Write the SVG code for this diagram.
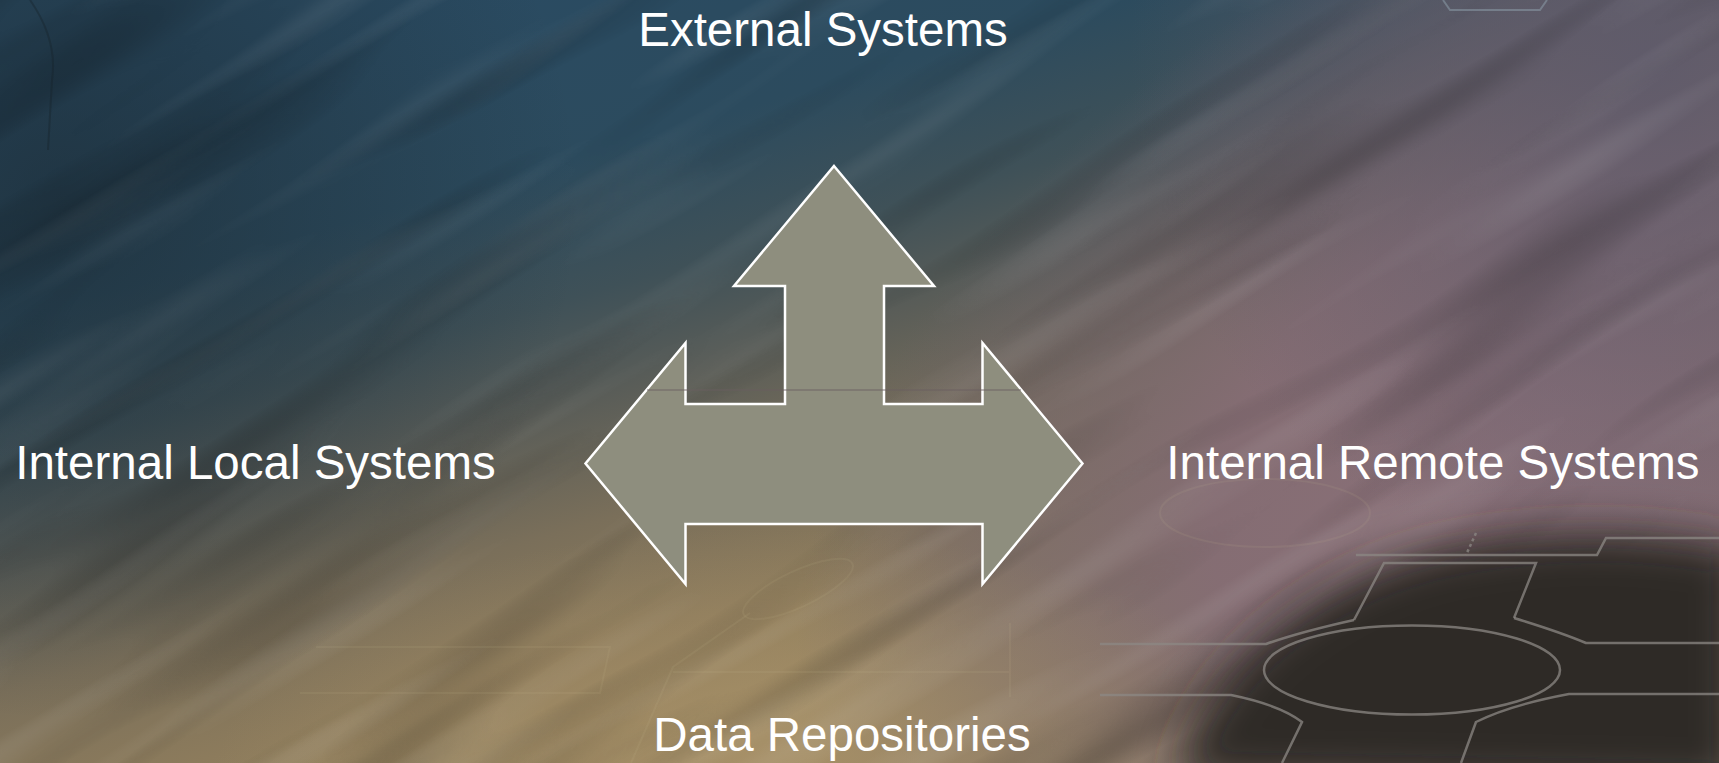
<svg xmlns="http://www.w3.org/2000/svg" width="1719" height="763" viewBox="0 0 1719 763">
<style>
.lbl{font-family:"Liberation Sans",Arial,Helvetica,sans-serif;font-size:47.5px;fill:#ffffff;text-anchor:middle}
.arrow{fill:#8e8e7e;stroke:#ffffff;stroke-width:2.5;stroke-linejoin:miter}
.circ{fill:none;stroke:#8c8884;stroke-width:2.5;opacity:0.75}
.faint{fill:none;stroke:#d8c49a;stroke-width:2;opacity:0.09}
</style>
<defs>
<linearGradient id="base" gradientUnits="userSpaceOnUse" x1="400" y1="0" x2="620" y2="763">
<stop offset="0" stop-color="#2a4b62"/>
<stop offset="0.25" stop-color="#2c4b5e"/>
<stop offset="0.42" stop-color="#3f5158"/>
<stop offset="0.55" stop-color="#5a5d58"/>
<stop offset="0.7" stop-color="#7a6f5a"/>
<stop offset="0.85" stop-color="#8c7b5c"/>
<stop offset="1" stop-color="#9a8862"/>
</linearGradient>
<radialGradient id="mauve" gradientUnits="userSpaceOnUse" cx="1550" cy="420" r="820" gradientTransform="translate(1550 420) rotate(-30) scale(1 0.62) translate(-1550 -420)">
<stop offset="0" stop-color="#8a7079" stop-opacity="1"/>
<stop offset="0.45" stop-color="#846c74" stop-opacity="0.95"/>
<stop offset="0.75" stop-color="#74666e" stop-opacity="0.55"/>
<stop offset="1" stop-color="#6a6070" stop-opacity="0"/>
</radialGradient>
<radialGradient id="purpleTop" gradientUnits="userSpaceOnUse" cx="1650" cy="60" r="520">
<stop offset="0" stop-color="#5e5a6a" stop-opacity="0.9"/>
<stop offset="1" stop-color="#5e5a6a" stop-opacity="0"/>
</radialGradient>
<radialGradient id="darkTL" gradientUnits="userSpaceOnUse" cx="60" cy="200" r="520">
<stop offset="0" stop-color="#18242c" stop-opacity="0.55"/>
<stop offset="1" stop-color="#18242c" stop-opacity="0"/>
</radialGradient>
<radialGradient id="warm" gradientUnits="userSpaceOnUse" cx="760" cy="780" r="420" gradientTransform="translate(760 780) scale(1.3 0.6) translate(-760 -780)">
<stop offset="0" stop-color="#a99168" stop-opacity="0.8"/>
<stop offset="1" stop-color="#a99168" stop-opacity="0"/>
</radialGradient>
<filter id="streakD" filterUnits="objectBoundingBox" x="0" y="0" width="1" height="1">
<feTurbulence type="fractalNoise" baseFrequency="0.0018 0.016" numOctaves="2" seed="7"/>
<feColorMatrix type="matrix" values="0 0 0 0 0  0 0 0 0 0  0 0 0 0 0  2.6 0 0 0 -1.35"/>
</filter>
<filter id="streakL" filterUnits="objectBoundingBox" x="0" y="0" width="1" height="1">
<feTurbulence type="fractalNoise" baseFrequency="0.0022 0.022" numOctaves="2" seed="21"/>
<feColorMatrix type="matrix" values="0 0 0 0 1  0 0 0 0 1  0 0 0 0 1  -2.6 0 0 0 1.25"/>
</filter>
<filter id="blur" x="-20%" y="-20%" width="140%" height="140%">
<feGaussianBlur stdDeviation="22"/>
</filter>
</defs>

<g id="background">
<rect width="1719" height="763" fill="url(#base)"/>
<rect width="1719" height="763" fill="url(#mauve)"/>
<rect width="1719" height="763" fill="url(#purpleTop)"/>
<rect width="1719" height="763" fill="url(#darkTL)"/>
<rect width="1719" height="763" fill="url(#warm)"/>
<g transform="rotate(-32 860 380)">
<rect x="-700" y="-900" width="3200" height="2600" filter="url(#streakD)" opacity="0.26"/>
<rect x="-700" y="-900" width="3200" height="2600" filter="url(#streakL)" opacity="0.1"/>
</g>
<path d="M1175,780 C1200,680 1290,590 1430,552 C1545,526 1650,530 1740,548 L1740,790 Z" fill="#2f2a28" filter="url(#blur)"/>
<path d="M30,0 Q58,40 52,80 L48,150" fill="none" stroke="#16222a" stroke-width="2" opacity="0.4"/>
<polyline points="1443,0 1450,10 1540,10 1547,0" fill="none" stroke="#8fa2ae" stroke-width="2" opacity="0.5"/>
<g id="circuit">
<ellipse class="circ" cx="1412" cy="670" rx="148" ry="44.5"/>
<path class="circ" d="M1354,620 L1384,563 L1536,563 L1514,618"/>
<path class="circ" d="M1354,620 Q1300,632 1266,644 L1190,644"/>
<path class="circ" d="M1190,644 L1100,644" opacity="0.25"/>
<path class="circ" d="M1514,618 Q1560,632 1586,643 L1719,643"/>
<path class="circ" d="M1190,695 L1231,695 Q1280,705 1302,722 L1282,763"/>
<path class="circ" d="M1190,695 L1100,695" opacity="0.25"/>
<path class="circ" d="M1719,694 L1569,694 Q1510,705 1476,722 L1461,763"/>
<path class="circ" d="M1356,555 L1597,555 L1606,538 L1719,538" opacity="0.35"/>
<path class="circ" d="M1476,533 L1466,555" stroke-dasharray="3 3" opacity="0.4"/>
</g>
<g id="faint-circuit">
<ellipse class="faint" cx="798" cy="589" rx="60" ry="18" transform="rotate(-25 798 589)"/>
<path class="faint" d="M750,613 L673,667 L631,763"/>
<path class="faint" d="M673,672 L1010,672 M1010,623 L1010,697"/>
<path class="faint" d="M316,647 L610,647 L600,693 L300,693"/>
<ellipse class="faint" cx="1265" cy="513" rx="105" ry="34"/>
</g>
</g>

<g id="connector-arrow">
<polygon class="arrow" points="834,166 934,286 884,286 884,404 982.5,404 982.5,343 1082.5,463.5 982.5,584 982.5,524 685.5,524 685.5,584 585.5,463.5 685.5,343 685.5,404 785,404 785,286 734,286"/>
<line x1="647" y1="390" x2="1021" y2="390" stroke="#6a5f60" stroke-width="1.2" opacity="0.85"/>
</g>

<g id="node-external"><text class="lbl" x="823" y="46">External Systems</text></g>
<g id="node-local"><text class="lbl" x="255.5" y="479">Internal Local Systems</text></g>
<g id="node-remote"><text class="lbl" x="1433" y="479">Internal Remote Systems</text></g>
<g id="node-data"><text class="lbl" x="842" y="751">Data Repositories</text></g>
</svg>
